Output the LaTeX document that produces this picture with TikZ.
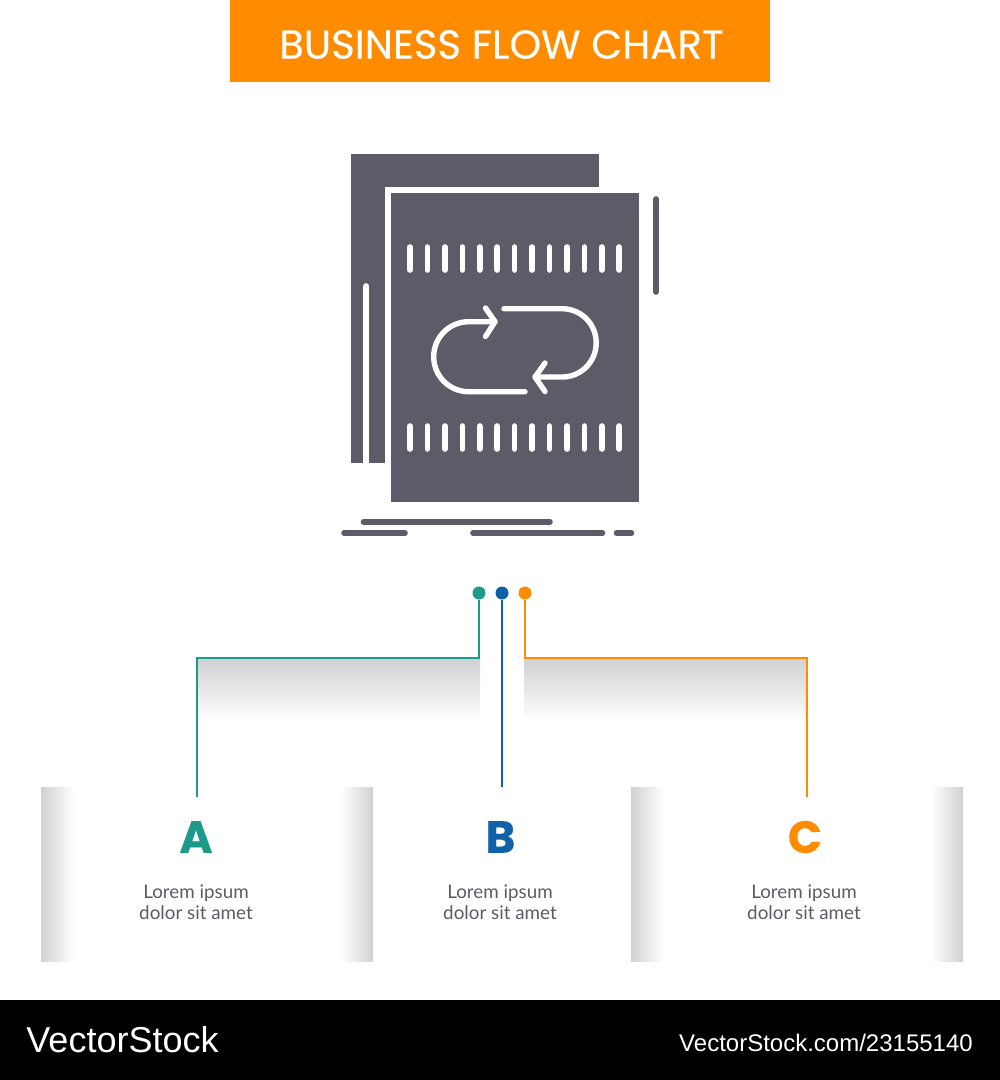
\documentclass[tikz,border=0pt]{standalone}
\usepackage{fontspec}
\setmainfont{Lato}
\newfontfamily\titlefont[FakeBold=0.35]{Poppins}
\newfontfamily\stockfont{Liberation Sans}
\definecolor{slateink}{HTML}{5C5B68}
\definecolor{headorange}{HTML}{FF8C00}
\definecolor{tealA}{HTML}{1E9A8A}
\definecolor{blueB}{HTML}{0F62A8}
\definecolor{shadegray}{HTML}{D0D1D3}
\tikzset{
  slatebar/.style={draw=slateink,line width=5.6pt,line cap=round},
  whitebar/.style={draw=white,line width=5.6pt,line cap=round},
  loopline/.style={draw=white,line width=5.4pt,line cap=round,line join=round},
  dotnode/.style={circle,inner sep=0pt,outer sep=0pt,minimum size=13pt},
  linkline/.style={line width=1.7pt},
  letternode/.style={inner sep=0pt,font=\titlefont\bfseries\fontsize{45}{45}\selectfont},
  loremnode/.style={align=center,text=slateink,inner sep=0pt,font=\fontsize{18.8}{20.5}\selectfont}
}
\begin{document}
\begin{tikzpicture}[x=1pt,y=-1pt]
\useasboundingbox (0,0) rectangle (1000,1080);
\fill [white] (0,0) rectangle (1000,1080);
\fill [headorange] (230,0) rectangle (770,82);
\node (title) at (501.5,44.5) [text=white,inner sep=0pt,font=\titlefont\fontsize{40.3}{40.3}\selectfont] {BUSINESS FLOW CHART};

\fill [slateink] (351,153.5) rectangle (599,463);
\fill [white] (385,187) rectangle (645,510);
\fill [slateink] (390.7,192.7) rectangle (638.7,502);
\draw [whitebar] (366.2,286) -- (366.2,466);
\draw [slatebar] (656.2,199) -- (656.2,292);
\foreach \n in {0,...,12} {
  \draw [whitebar] (410+17.44*\n,247) -- (410+17.44*\n,270);
  \draw [whitebar] (410+17.44*\n,426) -- (410+17.44*\n,449);
}
\draw [loopline,rounded corners=35pt] (525,391.7) -- (433.7,391.7) -- (433.7,321.7) -- (495,321.7);
\draw [loopline] (485.5,308) -- (495,321.7) -- (485.5,336.5);
\draw [loopline,rounded corners=34pt] (504,308.7) -- (596.2,308.7) -- (596.2,377) -- (535,377);
\draw [loopline] (545,363) -- (535,377) -- (545,391.5);
\draw [slatebar] (363.5,521.7) -- (550,521.7);
\draw [slatebar] (344,533) -- (405,533);
\draw [slatebar] (473,533) -- (602.5,533);
\draw [slatebar] (616.5,533) -- (631.5,533);

\shade [top color=shadegray,middle color=shadegray!25!white,bottom color=white] (197,659) rectangle (480,722);
\shade [top color=shadegray,middle color=shadegray!25!white,bottom color=white] (524,659) rectangle (807,722);
\shade [left color=shadegray,middle color=shadegray!30!white,right color=white] (41,787) rectangle (74,961.5);
\shade [left color=white,middle color=shadegray!30!white,right color=shadegray] (341,787) rectangle (373,961.5);
\shade [left color=shadegray,middle color=shadegray!30!white,right color=white] (631,787) rectangle (664,961.5);
\shade [left color=white,middle color=shadegray!30!white,right color=shadegray] (931,787) rectangle (963,961.5);

\node (dotA) at (479,593) [dotnode,fill=tealA] {};
\node (dotB) at (502,593) [dotnode,fill=blueB] {};
\node (dotC) at (525,593) [dotnode,fill=headorange] {};
\coordinate (elbowA) at (479,658);
\coordinate (cornerA) at (196.7,658);
\coordinate (endA) at (196.7,797);
\coordinate (endB) at (502,787);
\coordinate (elbowC) at (525,658);
\coordinate (cornerC) at (807,658);
\coordinate (endC) at (807,797);
\draw [linkline,tealA] (dotA) -- (elbowA) -- (cornerA) -- (endA);
\draw [linkline,blueB] (dotB) -- (endB);
\draw [linkline,headorange] (dotC) -- (elbowC) -- (cornerC) -- (endC);

\node (letterA) at (196,837) [letternode,text=tealA] {A};
\node (letterB) at (500.5,837) [letternode,text=blueB] {B};
\node (letterC) at (805,837) [letternode,text=headorange] {C};
\node (textA) at (196,902) [loremnode] {Lorem ipsum\\dolor sit amet};
\node (textB) at (500,902) [loremnode] {Lorem ipsum\\dolor sit amet};
\node (textC) at (804,902) [loremnode] {Lorem ipsum\\dolor sit amet};

\fill [black] (0,1000) rectangle (1000,1080);
\node (brand) at (122.5,1040) [text=white,inner sep=0pt,font=\stockfont\fontsize{36}{36}\selectfont] {VectorStock};
\node (stockid) at (826,1043) [text=white,inner sep=0pt,font=\stockfont\fontsize{24}{24}\selectfont] {VectorStock.com/23155140};
\end{tikzpicture}
\end{document}
